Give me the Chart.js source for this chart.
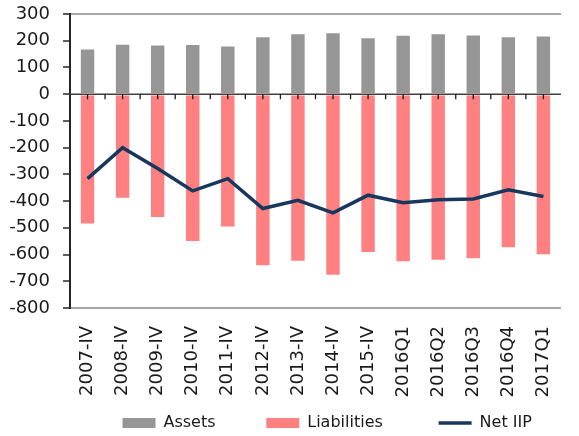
<!DOCTYPE html>
<html>
<head>
<meta charset="utf-8">
<script src="https://cdn.jsdelivr.net/npm/chart.js@4/dist/chart.umd.min.js"></script>
<style>
  html, body { margin: 0; padding: 0; background: #ffffff; overflow: hidden; width: 579px; height: 436px; }
  #wrap { width: 583px; height: 441px; }
</style>
</head>
<body>
<div id="wrap"><canvas id="c" width="583" height="441" style="width:583px;height:441px"></canvas></div>
<script>
const categories = ['2007-IV','2008-IV','2009-IV','2010-IV','2011-IV','2012-IV','2013-IV','2014-IV','2015-IV','2016Q1','2016Q2','2016Q3','2016Q4','2017Q1'];
const assets = [171, 189, 186, 188, 182, 217, 228, 232, 213, 222, 228, 223, 217, 220];
const liabilities = [-488, -391, -463, -553, -499, -644, -627, -679, -594, -629, -623, -618, -576, -603];
const netIIP = [-316, -200, -278, -362, -316, -428, -397, -444, -378, -406, -395, -392, -358, -383];
const seriesNames = ['Assets', 'Liabilities', 'Net IIP'];
const yTickMin = -800, yTickMax = 300, yTickStep = 100;

const FONT = "'DejaVu Sans', sans-serif";
const TEXT = '#1a1a1a';

const zeroAxisPlugin = {
  id: 'zeroAxis',
  afterDatasetsDraw(chart) {
    const x = chart.scales.x, y = chart.scales.y, ctx = chart.ctx;
    const area = chart.chartArea;
    const y0 = y.getPixelForValue(0);
    ctx.save();
    ctx.strokeStyle = '#404040';
    ctx.lineWidth = 1.5;
    ctx.beginPath();
    ctx.moveTo(area.left, y0);
    ctx.lineTo(area.right, y0);
    ctx.stroke();
    ctx.strokeStyle = '#1a1a1a';
    ctx.lineWidth = 1.3;
    ctx.beginPath();
    const half = (x.getPixelForValue(1) - x.getPixelForValue(0)) / 2;
    for (let i = 0; i < categories.length; i++) {
      const c = x.getPixelForValue(i);
      ctx.moveTo(c, y0); ctx.lineTo(c, y0 + 5);
      const b = c + half;
      if (b < area.right - 1) { ctx.moveTo(b, y0); ctx.lineTo(b, y0 + 5); }
    }
    ctx.stroke();
    ctx.restore();
  }
};

const SP = '\u00a0';
const legendText = [seriesNames[0] + SP.repeat(8), seriesNames[1] + SP.repeat(9), seriesNames[2]];

new Chart(document.getElementById('c'), {
  data: {
    labels: categories,
    datasets: [
      { type: 'bar', label: seriesNames[0], data: assets, backgroundColor: '#969696', borderColor: 'rgba(255,255,255,0.35)', borderWidth: 1, grouped: false, categoryPercentage: 1, barPercentage: 0.44, order: 2 },
      { type: 'bar', label: seriesNames[1], data: liabilities, backgroundColor: '#ff8080', borderColor: 'rgba(255,255,255,0.35)', borderWidth: 1, grouped: false, categoryPercentage: 1, barPercentage: 0.44, order: 2 },
      { type: 'line', label: seriesNames[2], data: netIIP, borderColor: '#17375e', backgroundColor: '#17375e', borderWidth: 3.5, pointRadius: 0, tension: 0, fill: false, order: 0 }
    ]
  },
  options: {
    responsive: false,
    animation: false,
    devicePixelRatio: 1,
    layout: { padding: { left: 0, right: 0, top: 14, bottom: 0 } },
    plugins: {
      tooltip: { enabled: false },
      legend: {
        position: 'bottom',
        labels: {
          usePointStyle: true,
          pointStyleWidth: 33,
          boxHeight: 10,
          padding: 10,
          color: TEXT,
          font: { family: FONT, size: 16 },
          generateLabels: (chart) => {
            const ds = chart.data.datasets;
            const items = [{
              text: SP.repeat(4), datasetIndex: -1, fillStyle: 'rgba(0,0,0,0)', strokeStyle: 'rgba(0,0,0,0)',
              lineWidth: 0, pointStyle: 'rect', hidden: false, fontColor: 'rgba(0,0,0,0)'
            }];
            [0, 1, 2].forEach(i => items.push({
              text: legendText[i],
              datasetIndex: i,
              fillStyle: i < 2 ? ds[i].backgroundColor : ds[i].borderColor,
              strokeStyle: i < 2 ? ds[i].backgroundColor : ds[i].borderColor,
              lineWidth: i < 2 ? 0 : 3.5,
              pointStyle: i < 2 ? 'rect' : 'line',
              hidden: false,
              fontColor: TEXT
            }));
            return items;
          }
        }
      }
    },
    scales: {
      x: {
        offset: true,
        grid: { display: false, drawTicks: false },
        border: { display: false },
        ticks: { autoSkip: false, minRotation: 90, maxRotation: 90, padding: 18, color: TEXT, font: { family: FONT, size: 18 } },
        afterFit: (s) => { s.height = 97; }
      },
      y: {
        min: yTickMin, max: yTickMax,
        ticks: { stepSize: yTickStep, padding: 13, color: TEXT, font: { family: FONT, size: 18 } },
        grid: {
          color: (c) => (c.tick && (c.tick.value === yTickMax || c.tick.value === yTickMin)) ? '#a6a6a6' : 'rgba(0,0,0,0)',
          lineWidth: 2,
          tickColor: '#262626',
          tickLength: 7,
          tickWidth: 1.5
        },
        border: { display: true, color: '#262626', width: 2 },
        afterFit: (s) => { s.width = 70; s.paddingTop = 8; s.paddingBottom = 8; }
      }
    }
  },
  plugins: [zeroAxisPlugin]
});
</script>
</body>
</html>
